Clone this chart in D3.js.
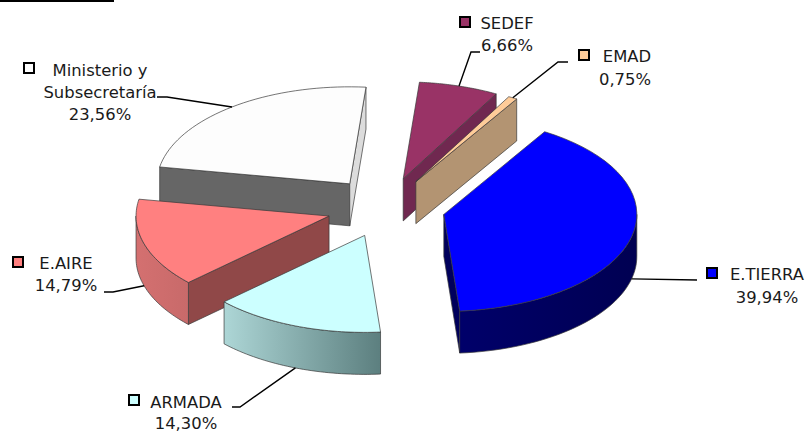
<!DOCTYPE html>
<html>
<head>
<meta charset="utf-8">
<script src="https://cdn.jsdelivr.net/npm/d3@7"></script>
<style>
html, body { margin: 0; padding: 0; background: #fff; overflow: hidden; }
text { font-family: "DejaVu Sans", sans-serif; font-size: 16.4px; fill: #1a1a1a; }
</style>
</head>
<body>
<script>
// chart data, clockwise from the E.TIERRA slice
var categories = ["E.TIERRA", "ARMADA", "E.AIRE", "Ministerio y Subsecretaría", "SEDEF", "EMAD"];
var shares = [39.94, 14.30, 14.79, 23.56, 6.66, 0.75];
var shareLabels = ["39,94%", "14,30%", "14,79%", "23,56%", "6,66%", "0,75%"];

// colours per slice
var topColors = ["#0000ff", "#ccffff", "#ff8080", "#fdfdfd", "#993366", "#ffcc99"];
var startCutColors = ["#00005c", "#8fb5b5", "#904848", "#666666", "#702850", "#b39472"];
var endCutColors = ["#00005c", "#8fb5b5", "#904848", "#dcdcdc", "#702850", "#b39472"];
var wallLeft = ["#00006a", "#add6d6", "#d47070", "#666666", "#702850", "#b39472"];
var wallRight = ["#000052", "#5c7f7f", "#c86a6a", "#666666", "#702850", "#b39472"];

// painter's order, back slices first
var drawOrder = [3, 4, 5, 2, 1, 0];

// pie geometry
var w = 808, h = 432;
var cx = 386, cy = 207.5, rx = 193, ry = 97;
var depth = 42, explode = 0.308;
var startAngle = 31.5 * Math.PI / 180;

var svg = d3.select("body").append("svg")
    .attr("width", w)
    .attr("height", h);

// the black rule in the top left corner
svg.append("rect")
    .attr("x", 0).attr("y", 0)
    .attr("width", 114).attr("height", 2)
    .attr("fill", "#000");

var xScale = d3.scaleLinear().domain([-1, 1]).range([cx - rx, cx + rx]);
var yScale = d3.scaleLinear().domain([-1, 1]).range([cy - ry, cy + ry]);

var slices = d3.pie()
    .sort(null)
    .startAngle(startAngle)
    .endAngle(startAngle + 2 * Math.PI)(shares);

slices.forEach(function(d) {
    var mid = (d.startAngle + d.endAngle) / 2;
    d.mid = mid;
    d.ox = explode * Math.sin(mid);
    d.oy = -explode * Math.cos(mid);
});

// point of a slice, on the top face when drop is 0
function rim(d, a, drop) {
    return [xScale(d.ox + Math.sin(a)), yScale(d.oy - Math.cos(a)) + (drop || 0)];
}
function apex(d, drop) {
    return [xScale(d.ox), yScale(d.oy) + (drop || 0)];
}
function arcPoints(d, a0, a1, drop) {
    return d3.range(0, 41).map(function(i) {
        return rim(d, a0 + (a1 - a0) * i / 40, drop);
    });
}

var line = d3.line();
var defs = svg.append("defs");

drawOrder.forEach(function(i) {
    var d = slices[i];
    var grad = defs.append("linearGradient").attr("id", "wall" + i);
    grad.append("stop").attr("offset", "0%").attr("stop-color", wallLeft[i]);
    grad.append("stop").attr("offset", "100%").attr("stop-color", wallRight[i]);

    var g = svg.append("g")
        .attr("stroke", "#3a3a3a")
        .attr("stroke-width", 0.7)
        .attr("stroke-linejoin", "round");

    // flat cut walls, only the ones turned to the viewer
    function cutWall(a, color) {
        var q = [apex(d), rim(d, a), rim(d, a, depth), apex(d, depth)];
        g.append("path").attr("d", line(q) + "Z").attr("fill", color);
    }
    if (Math.sin(d.startAngle) < 0) cutWall(d.startAngle, startCutColors[i]);
    if (Math.sin(d.endAngle) > 0) cutWall(d.endAngle, endCutColors[i]);

    // outer wall, only the part that faces the viewer
    var a0 = Math.max(d.startAngle, Math.PI / 2);
    var a1 = Math.min(d.endAngle, 3 * Math.PI / 2);
    if (a1 > a0) {
        var pts = arcPoints(d, a0, a1, 0).concat(arcPoints(d, a1, a0, depth));
        g.append("path").attr("d", line(pts) + "Z").attr("fill", "url(#wall" + i + ")");
    }

    // top face
    var top = [apex(d)].concat(arcPoints(d, d.startAngle, d.endAngle, 0));
    g.append("path").attr("d", line(top) + "Z").attr("fill", topColors[i]);
});

// legend key, text lines and leader elbow for each slice
var keyPos = [[707, 268], [129, 395], [13, 257], [24, 63], [460, 17], [579, 50]];
var elbows = [
    [[697, 280]],
    [[240, 407], [232, 407]],
    [[113, 292], [104, 292]],
    [[167, 97], [157, 97]],
    [[471, 52], [480, 52]],
    [[558, 62], [568, 62]]
];
var textLines = [
    [["E.TIERRA", 767, 280], [shareLabels[0], 767, 303]],
    [["ARMADA", 186, 408], [shareLabels[1], 186, 429]],
    [["E.AIRE", 66, 269], [shareLabels[2], 66, 291]],
    [["Ministerio y", 100, 76], ["Subsecretaría", 100, 98], [shareLabels[3], 100, 120]],
    [["SEDEF", 507, 29], [shareLabels[4], 507, 51]],
    [["EMAD", 627, 62], [shareLabels[5], 625, 85]]
];

slices.forEach(function(d, i) {
    var front = Math.cos(d.mid) < 0;
    var start = rim(d, d.mid, (front || i === 0) ? depth : 0);
    svg.append("path")
        .attr("d", line([start].concat(elbows[i])))
        .attr("fill", "none")
        .attr("stroke", "#000")
        .attr("stroke-width", 1.4);

    svg.append("rect")
        .attr("x", keyPos[i][0]).attr("y", keyPos[i][1])
        .attr("width", 10).attr("height", 10)
        .attr("fill", topColors[i])
        .attr("stroke", "#000")
        .attr("stroke-width", 2);

    textLines[i].forEach(function(t) {
        svg.append("text")
            .attr("x", t[1]).attr("y", t[2])
            .attr("text-anchor", "middle")
            .text(t[0]);
    });
});
</script>
</body>
</html>
